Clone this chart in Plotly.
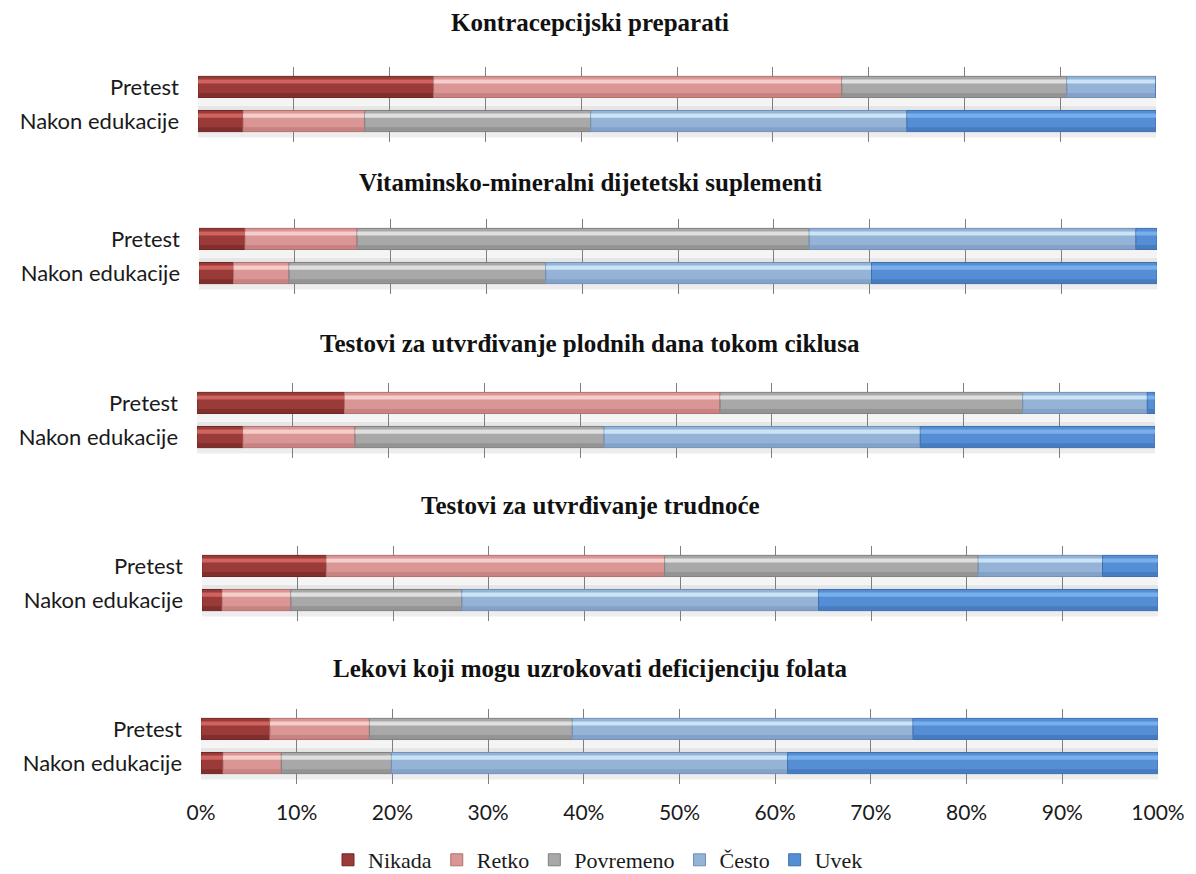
import plotly.graph_objects as go

W, H = 1196, 874

titles = [
    "Kontracepcijski preparati",
    "Vitaminsko-mineralni dijetetski suplementi",
    "Testovi za utvrđivanje plodnih dana tokom ciklusa",
    "Testovi za utvrđivanje trudnoće",
    "Lekovi koji mogu uzrokovati deficijenciju folata",
]
groups = ["Pretest", "Nakon edukacije"]
levels = ["Nikada", "Retko", "Povremeno", "Često", "Uvek"]

# Percent of answers per panel, as [Pretest, Nakon edukacije]
nikada = [[24.6, 4.7], [4.8, 3.6], [15.4, 4.8], [13.0, 2.1], [7.2, 2.3]]
retko = [[42.6, 12.7], [11.7, 5.8], [39.2, 11.7], [35.4, 7.2], [10.4, 6.1]]
povremeno = [[23.5, 23.6], [47.2, 26.8], [31.6, 26.0], [32.8, 17.9], [21.2, 11.5]]
cesto = [[9.3, 33.0], [34.1, 34.0], [13.0, 33.0], [13.0, 37.3], [35.6, 41.4]]
uvek = [[0.0, 26.0], [2.2, 29.8], [0.8, 24.5], [5.8, 35.5], [25.6, 38.7]]

series = [nikada, retko, povremeno, cesto, uvek]
colors = ["#9b3b39", "#d99694", "#a8a8a8", "#95b3d7", "#558ed5"]
edges = ["#6e2624", "#b06f6d", "#7f7f7f", "#6f8fb8", "#3b6fae"]
highlights = ["#e0716d", "#fde0df", "#f2f2f2", "#dcf4ff", "#85baf2"]
shadows = ["#7c2c2a", "#c27e7c", "#8e8e8e", "#7f9dc4", "#4478bb"]

# pixel layout of each panel: (left, right, vertical centre)
panels_px = [(198, 1156, 104), (199, 1157, 256), (197, 1155, 420),
             (202, 1158, 583), (201, 1158, 746)]
title_y = [22, 182, 343, 505, 668]
half_h = 37.5
BAR_W = 0.62

fig = go.Figure()
layout = {}
shapes = []
for p, (x0, x1, yc) in enumerate(panels_px):
    xa = "x" if p == 0 else f"x{p+1}"
    ya = "y" if p == 0 else f"y{p+1}"
    cats = groups[::-1]

    # soft grey floor between and below the bars
    for y_lo, y_hi, col in [(0.31, 0.45, "#e6e6e6"), (0.45, 0.69, "#f4f4f4"),
                            (-0.48, -0.31, "#ededed")]:
        shapes.append(dict(type="rect", xref=f"{xa} domain", yref=ya,
                           x0=0, x1=1, y0=y_lo, y1=y_hi, fillcolor=col,
                           line=dict(width=0), layer="below"))

    base = [0.0, 0.0]
    for k, lev in enumerate(levels):
        vals = series[k][p][::-1]
        # main segment
        fig.add_trace(go.Bar(
            x=vals, y=cats, base=base[:], orientation="h", name=lev,
            marker=dict(color=colors[k], line=dict(color=edges[k], width=1)),
            width=BAR_W, legendgroup=lev, showlegend=(p == 0),
            xaxis=xa, yaxis=ya, hoverinfo="x+name",
        ))
        # bright band in the upper part and a darker lower strip (bevel look)
        fig.add_trace(go.Bar(
            x=vals, y=cats, base=base[:], orientation="h",
            marker=dict(color=highlights[k], opacity=0.75, line=dict(width=0)),
            width=0.12, offset=0.1, legendgroup=lev, showlegend=False,
            xaxis=xa, yaxis=ya, hoverinfo="skip",
        ))
        fig.add_trace(go.Bar(
            x=vals, y=cats, base=base[:], orientation="h",
            marker=dict(color=shadows[k], opacity=0.8, line=dict(width=0)),
            width=0.12, offset=-0.3, legendgroup=lev, showlegend=False,
            xaxis=xa, yaxis=ya, hoverinfo="skip",
        ))
        base = [base[i] + vals[i] for i in range(2)]

    last = p == len(panels_px) - 1
    layout["xaxis" if p == 0 else f"xaxis{p+1}"] = dict(
        domain=[x0 / W, x1 / W], range=[0, 100], anchor=ya,
        tickvals=list(range(0, 101, 10)),
        ticktext=[f"{v}%" for v in range(0, 101, 10)],
        showticklabels=last, showgrid=True, gridcolor="#7f7f7f", gridwidth=1,
        zeroline=False, showline=False, automargin=False,
        tickfont=dict(family="Lato", size=21, color="#1a1a1a"),
        ticks="", ticklabelstandoff=14, fixedrange=True, layer="above traces",
    )
    layout["yaxis" if p == 0 else f"yaxis{p+1}"] = dict(
        domain=[1 - (yc + half_h) / H, 1 - (yc - half_h) / H], anchor=xa,
        type="category", categoryorder="array", categoryarray=cats,
        range=[-0.6, 1.6], showgrid=False, zeroline=False, automargin=False,
        showline=False, ticks="", ticklabelstandoff=18,
        tickfont=dict(family="Lato", size=22, color="#1a1a1a"),
        fixedrange=True,
    )
    fig.add_annotation(
        x=590 / W, y=1 - title_y[p] / H, xref="paper", yref="paper",
        xanchor="center", yanchor="middle",
        text=f"<b>{titles[p]}</b>", showarrow=False,
        font=dict(family="Liberation Serif", size=25, color="#111"),
    )

fig.update_layout(
    width=W, height=H, margin=dict(l=0, r=0, t=0, b=0, autoexpand=False),
    barmode="overlay", plot_bgcolor="rgba(0,0,0,0)", paper_bgcolor="white",
    showlegend=True, shapes=shapes,
    legend=dict(orientation="h", x=0.5, xanchor="center", y=1 - 860 / H,
                yanchor="middle", font=dict(family="Liberation Serif", size=22, color="#1a1a1a"),
                itemwidth=30, traceorder="normal", tracegroupgap=0),
    **layout,
)

fig.write_html("out.html")
